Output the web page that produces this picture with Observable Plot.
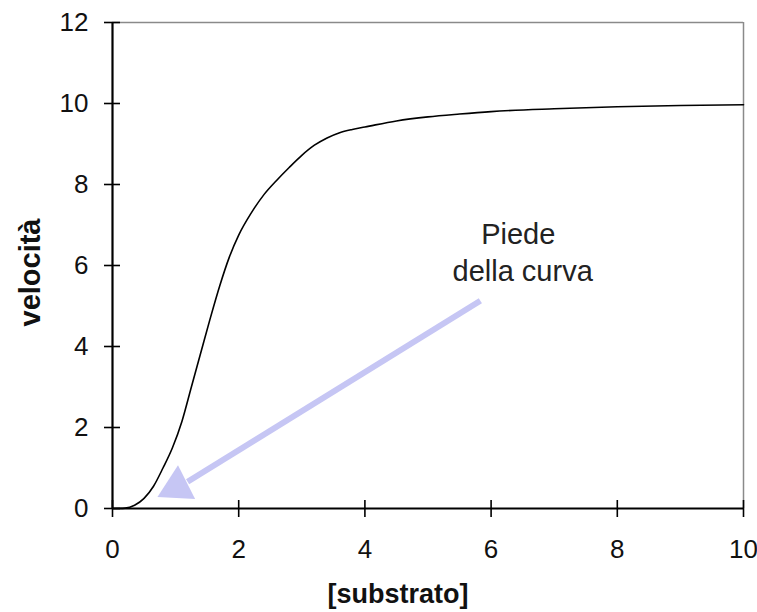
<!DOCTYPE html>
<html>
<head>
<meta charset="utf-8">
<script src="https://cdn.jsdelivr.net/npm/d3@7"></script>
<script src="https://cdn.jsdelivr.net/npm/@observablehq/plot@0.6"></script>
<style>
  html, body { margin: 0; padding: 0; background: #fff; }
  svg { display: block; }
</style>
</head>
<body>
<div id="chart"></div>
<script>
// Curve: substrate concentration vs velocity (sigmoidal)
const substrato = [0, 0.2, 0.35, 0.5, 0.65, 0.8, 0.95, 1.1, 1.25, 1.4, 1.55, 1.7, 1.85, 2.0, 2.2, 2.4, 2.6, 2.8, 3.0, 3.2, 3.4, 3.6, 3.8, 4.0, 4.5, 5.0, 5.5, 6.0, 7.0, 8.0, 9.0, 10];
const velocita  = [0, 0.01, 0.08, 0.25, 0.55, 1.0, 1.5, 2.15, 3.0, 3.85, 4.7, 5.5, 6.2, 6.75, 7.3, 7.75, 8.1, 8.42, 8.72, 8.97, 9.15, 9.28, 9.36, 9.42, 9.57, 9.67, 9.74, 9.8, 9.87, 9.92, 9.95, 9.97];

const xTicks = [0, 2, 4, 6, 8, 10];
const yTicks = [0, 2, 4, 6, 8, 10, 12];

// Annotation
const noteLines = ["Piede", "della curva"];
const noteX = [6.43, 6.5];
const noteY = [6.75, 5.85];

// Arrow (shaft start / end, head position)
const arrowFrom = {x: 5.83, y: 5.13};
const arrowTo = {x: 1.19, y: 0.66};
const arrowHead = {x: 1.02, y: 0.53};

const curve = substrato.map((s, i) => ({s, v: velocita[i]}));
const notes = noteLines.map((t, i) => ({t, x: noteX[i], y: noteY[i]}));

const font = "'Liberation Sans', Arial, sans-serif";
const arrowColor = "#c6c6f4";

const chart = Plot.plot({
  width: 757,
  height: 612,
  marginLeft: 112,
  marginRight: 14,
  marginTop: 22,
  marginBottom: 104,
  style: {fontFamily: font, background: "#fff", color: "#111"},
  x: {domain: [0, 10], label: null},
  y: {domain: [0, 12], label: null},
  marks: [
    // frame: top & right gray
    Plot.ruleY([12], {stroke: "#8a8a8a", strokeWidth: 1.5}),
    Plot.ruleX([10], {stroke: "#8a8a8a", strokeWidth: 1.5}),
    // arrow
    Plot.link([0], {x1: () => arrowFrom.x, y1: () => arrowFrom.y, x2: () => arrowTo.x, y2: () => arrowTo.y,
      stroke: arrowColor, strokeWidth: 6}),
    Plot.dot([arrowHead], {x: "x", y: "y", symbol: "triangle", r: 14, fill: arrowColor, stroke: "none", rotate: -117}),
    // curve
    Plot.line(curve, {x: "s", y: "v", stroke: "#000", strokeWidth: 1.6, curve: "monotone-x"}),
    // axes lines
    Plot.ruleX([0], {stroke: "#000", strokeWidth: 2.2}),
    Plot.ruleY([0], {stroke: "#000", strokeWidth: 2.2}),
    // crossing ticks
    Plot.axisX({ticks: xTicks, tickSize: 17, dy: -8, tickFormat: () => "", stroke: "#000", strokeWidth: 1.6, label: null}),
    Plot.axisY({ticks: yTicks, tickSize: 16, dx: 8, tickFormat: () => "", stroke: "#000", strokeWidth: 1.6, label: null}),
    // tick labels
    Plot.axisX({ticks: xTicks, tickSize: 0, tickPadding: 31, fontSize: 26, fill: "#111", label: null}),
    Plot.axisY({ticks: yTicks, tickSize: 0, tickPadding: 24, fontSize: 26, fill: "#111", label: null}),
    // axis titles
    Plot.text(["velocità"], {frameAnchor: "left", textAnchor: "middle", lineAnchor: "middle", dx: -82, dy: 7, rotate: -90, text: d => d,
      fontSize: 29, fontWeight: "bold", fill: "#111"}),
    Plot.text(["[substrato]"], {frameAnchor: "bottom", textAnchor: "middle", lineAnchor: "middle", dx: -30, dy: 86, text: d => d,
      fontSize: 27, fontWeight: "bold", fill: "#111"}),
    // annotation
    Plot.text(notes, {x: "x", y: "y", text: "t", fontSize: 29, fill: "#222"})
  ]
});
document.getElementById("chart").appendChild(chart);
</script>
</body>
</html>
